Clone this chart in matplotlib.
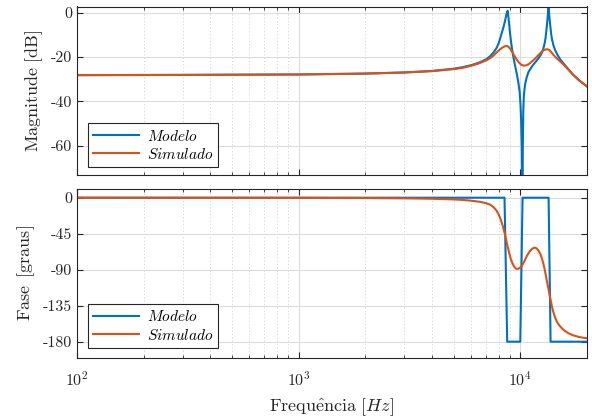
import numpy as np
import matplotlib
matplotlib.use('Agg')
import matplotlib.pyplot as plt
from matplotlib.ticker import FixedLocator, FixedFormatter, LogLocator, NullFormatter

plt.rcParams['font.family'] = ['cmr10', 'DejaVu Serif']
plt.rcParams['mathtext.fontset'] = 'cm'
plt.rcParams['axes.formatter.use_mathtext'] = True

# Magnitude - modelo
freq_mag_mod = [100, 300, 1000, 2000, 3000, 4000, 5000, 5500, 6000, 6500, 7000, 7320, 7600,
                7850, 8000, 8120, 8260, 8410, 8530, 8650, 8720, 8770, 8830, 8900, 8980, 9080,
                9200, 9330, 9500, 9660, 9800, 9930, 10030, 10100, 10170, 10220, 10270, 10320,
                10380, 10450, 10530, 10700, 10900, 11200, 11480, 11800, 12100, 12400, 12660,
                12850, 13000, 13150, 13240, 13340, 13420, 13500, 13580, 13660, 13780, 13900,
                14100, 14380, 14800, 15200, 15700, 16500, 17300, 18500, 20000]
mag_mod = [-28.2, -28.1, -27.9, -27.5, -27.0, -26.3, -25.3, -24.6, -23.7, -22.6, -21.1, -19.6,
           -17.8, -15.6, -13.6, -11.5, -9.0, -6.3, -3.8, -1.0, 0.3, 0.9, -1.5, -4.7, -8.8,
           -13.0, -17.0, -20.5, -24.5, -28.0, -31.5, -35.5, -42.0, -50.0, -62.0, -90.0,
           -60.0, -44.0, -37.5, -34.5, -32.0, -29.0, -26.7, -24.8, -23.3, -21.9, -20.5, -18.9,
           -16.8, -14.3, -11.5, -7.0, -3.8, 0.0, 2.6, -0.8, -3.5, -6.0, -9.5, -12.0, -14.6,
           -17.0, -19.5, -21.3, -23.0, -25.6, -28.0, -30.7, -33.3]

# Magnitude - simulado
freq_mag_sim = [100, 300, 1000, 2000, 3000, 4000, 5000, 5500, 6000, 6500, 7000, 7320, 7600,
                7850, 8050, 8260, 8500, 8730, 8950, 9200, 9450, 9660, 9900, 10100, 10350,
                10600, 10900, 11300, 11700, 12100, 12500, 12900, 13200, 13500, 13800, 14100,
                14600, 15200, 15700, 16500, 17300, 18500, 20000]
mag_sim = [-28.2, -28.1, -27.9, -27.5, -27.0, -26.4, -25.5, -24.9, -24.0, -22.9, -21.6, -20.5,
           -19.2, -17.8, -16.8, -15.9, -15.2, -15.0, -15.9, -17.7, -19.8, -21.4, -22.7, -23.5,
           -23.9, -23.8, -23.3, -22.0, -20.6, -19.0, -17.6, -16.7, -16.5, -16.8, -17.8, -19.0,
           -20.6, -22.2, -23.5, -25.8, -28.0, -30.7, -33.3]

# Fase - modelo
freq_fase_mod = [100, 8490, 8730, 10000, 10240, 13420, 13700, 20000]
fase_mod = [0, 0, -180, -180, 0, 0, -180, -180]

# Fase - simulado
freq_fase_sim = [100, 1000, 2000, 3000, 4000, 5000, 5500, 6000, 6600, 7000, 7320, 7550, 7750,
                 7950, 8120, 8300, 8450, 8600, 8750, 8900, 9050, 9200, 9400, 9600, 9800, 10000,
                 10200, 10450, 10700, 11000, 11300, 11500, 11700, 11900, 12100, 12300, 12500,
                 12700, 12850, 13000, 13200, 13420, 13660, 13900, 14100, 14350, 14600, 14900,
                 15200, 15700, 16500, 17300, 18500, 20000]
fase_sim = [0, -0.2, -0.4, -0.8, -1.3, -2.1, -2.8, -3.7, -5.2, -6.8, -8.8, -11.5, -14.8,
            -19.5, -25.5, -33.5, -41.5, -50, -60, -68.5, -76, -81.5, -86.5, -89, -88.8, -87.3,
            -84.5, -79, -73, -67.5, -64, -62.8, -62.5, -63.8, -66.5, -70, -75.5, -82, -88, -95,
            -105, -115, -126, -136, -143, -149.5, -154.5, -158.5, -161.5, -165.5, -169.5, -172,
            -174.3, -175.8]

mag_ticks = [-60, -40, -20, 0]
fase_ticks = [-180, -135, -90, -45, 0]

azul = '#0072BD'
laranja = '#D95319'
eixo = '#262626'


def estilo(ax):
    ax.set_xscale('log')
    ax.set_xlim(100, 20000)
    ax.xaxis.set_minor_locator(LogLocator(base=10, subs=np.arange(2, 10)))
    ax.xaxis.set_minor_formatter(NullFormatter())
    ax.grid(which='major', color='#dcdcdc', linewidth=0.8, linestyle='-')
    ax.grid(which='minor', axis='x', color='#d0d0d0', linewidth=0.6, linestyle=(0, (1.5, 2.5)))
    ax.set_axisbelow(True)
    ax.tick_params(which='both', direction='in', top=True, right=True, colors=eixo,
                   labelsize=11.5, labelcolor='#262626')
    ax.tick_params(which='major', length=4, width=0.8)
    ax.tick_params(which='minor', length=2, width=0.6)
    for s in ax.spines.values():
        s.set_color(eixo)
        s.set_linewidth(0.8)


fig = plt.figure(figsize=(5.92, 4.18), dpi=100)
ax1 = fig.add_axes([77 / 592, (418 - 175) / 418, 510 / 592, 168.5 / 418])
ax2 = fig.add_axes([77 / 592, (418 - 358) / 418, 510 / 592, 169 / 418])

ax1.plot(freq_mag_mod, mag_mod, color=azul, lw=1.5, label='$Modelo$')
ax1.plot(freq_mag_sim, mag_sim, color=laranja, lw=1.5, label='$Simulado$')
estilo(ax1)
ax1.set_ylim(-73.3, 2.8)
ax1.yaxis.set_major_locator(FixedLocator(mag_ticks))
ax1.yaxis.set_major_formatter(FixedFormatter([str(t) for t in mag_ticks]))
ax1.xaxis.set_major_formatter(NullFormatter())
ax1.set_ylabel(r'$\mathrm{Magnitude\ [dB]}$', fontsize=13, color='#262626', labelpad=4)

ax2.plot(freq_fase_mod, fase_mod, color=azul, lw=1.5, label='$Modelo$')
ax2.plot(freq_fase_sim, fase_sim, color=laranja, lw=1.5, label='$Simulado$')
estilo(ax2)
ax2.set_ylim(-200.4, 10.9)
ax2.yaxis.set_major_locator(FixedLocator(fase_ticks))
ax2.yaxis.set_major_formatter(FixedFormatter([str(t) for t in fase_ticks]))
ax2.set_ylabel(r'$\mathrm{Fase\ \,[graus]}$', fontsize=13, color='#262626', labelpad=4)
ax2.set_xlabel(r'$\mathrm{Frequ\hat{e}ncia}\ [Hz]$', fontsize=13, color='#262626', labelpad=5)
ax2.tick_params(axis='x', which='major', pad=9)

for ax, y0 in ((ax1, 0.048), (ax2, 0.06)):
    leg = ax.legend(loc='lower left', bbox_to_anchor=(0.021, y0), borderaxespad=0,
                    fontsize=11, handlelength=3.0, fancybox=False, framealpha=1,
                    edgecolor=eixo, borderpad=0.35, labelspacing=0.2, handletextpad=0.5)
    leg.get_frame().set_linewidth(0.8)

fig.savefig('out.png', dpi=100)
